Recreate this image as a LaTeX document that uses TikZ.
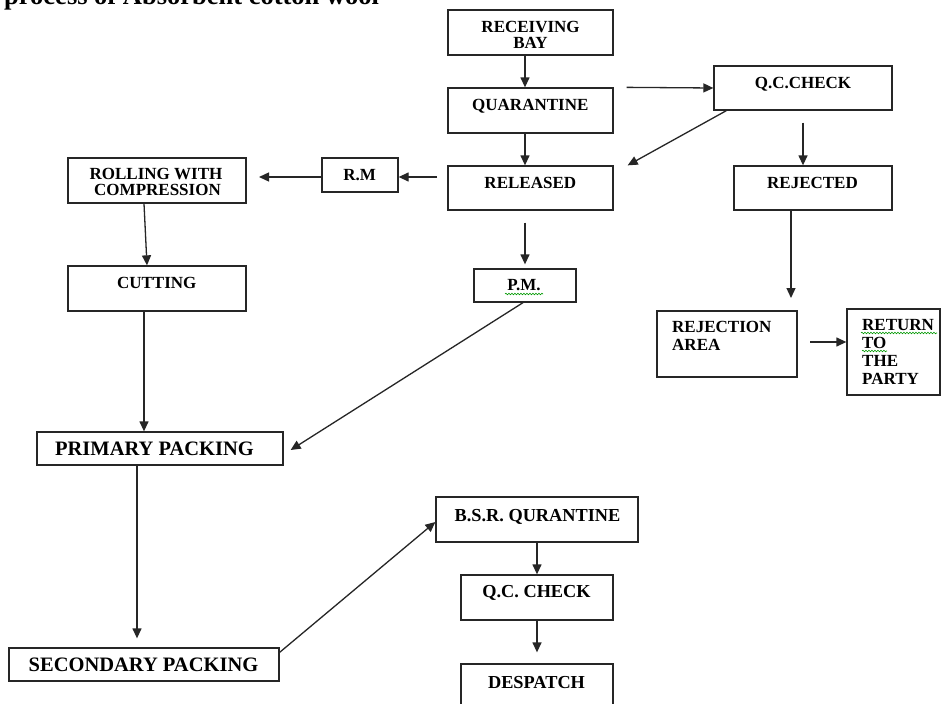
\documentclass[tikz,border=0pt]{standalone}
\usepackage{fontspec}
\setmainfont{Liberation Serif}
\usetikzlibrary{arrows.meta,decorations.pathmorphing}
\newcommand\mkbox[5]{\node[box,minimum width=#4pt,minimum height=#5pt] (#1) at (#2,#3) {};}
\begin{document}
\begin{tikzpicture}[x=1pt,y=-1pt,
  box/.style={draw=black!85,line width=1.3pt,inner sep=0pt,fill=none},
  lbl/.style={inner sep=0pt,anchor=base,font=\bfseries\fontsize{17}{17}\selectfont},
  lblb/.style={lbl,font=\bfseries\fontsize{18.3}{18.3}\selectfont},
  lblp/.style={lbl,font=\bfseries\fontsize{20.5}{20.5}\selectfont},
  lbll/.style={inner sep=0pt,anchor=base west,font=\bfseries\fontsize{17}{17}\selectfont},
  arr/.style={draw=black!85,line width=1.3pt,-{Triangle[length=10pt,width=9pt]}},
  spell/.style={draw=green!60!black,line width=0.6pt,decorate,decoration={snake,amplitude=0.8pt,segment length=3pt}}]
\useasboundingbox (0,0) rectangle (951,704);
\clip (0,0) rectangle (951,704);
\fill[white] (0,0) rectangle (951,704);
% title
\node[inner sep=0pt,anchor=base west,font=\bfseries\fontsize{26.5}{26.5}\selectfont] (title) at (4,5) {process of Absorbent cotton wool};
% boxes
\mkbox{rb}{530.5}{32.5}{165}{45}
\mkbox{qu}{530.5}{110.5}{165}{45}
\mkbox{re}{530.5}{188}{165}{44}
\mkbox{qc}{803}{88}{178}{44}
\mkbox{rj}{813}{188}{158}{44}
\mkbox{ra}{727}{344}{140}{66}
\mkbox{rt}{893.5}{352}{93}{86}
\mkbox{rm}{360}{175}{76}{34}
\mkbox{ro}{157}{180.5}{178}{45}
\mkbox{cu}{157}{288.5}{178}{45}
\mkbox{pm}{525}{285.5}{102}{33}
\mkbox{pp}{160}{448.5}{246}{33}
\mkbox{sp}{144}{664.5}{270}{33}
\mkbox{bsr}{537}{519.5}{202}{45}
\mkbox{qcb}{537}{597.5}{152}{45}
\mkbox{de}{537}{690}{152}{52}
% labels
\node[lbl] (rbA) at (530.6,32) {RECEIVING};
\node[lbl] (rbB) at (530.5,48) {BAY};
\node[lbl] (quL) at (530.3,110) {QUARANTINE};
\node[lbl] (reL) at (530.3,188) {RELEASED};
\node[lbl] (qcL) at (803,88) {Q.C.CHECK};
\node[lbl] (rjL) at (812.5,188) {REJECTED};
\node[lbll] (raA) at (672,332) {REJECTION};
\node[lbll] (raB) at (672,350) {AREA};
\node[lbll] (rtA) at (862,330) {RETURN};
\node[lbll] (rtB) at (862,348) {TO};
\node[lbll] (rtC) at (862,366) {THE};
\node[lbll] (rtD) at (862,384) {PARTY};
\node[lbl] (rmL) at (359.7,180) {R.M};
\node[lbl] (roA) at (156,179) {ROLLING WITH};
\node[lbl] (roB) at (157.5,195) {COMPRESSION};
\node[lbl] (cuL) at (156.7,288) {CUTTING};
\node[lbl] (pmL) at (524,290) {P.M.};
\node[lblp] (ppL) at (154.5,455) {PRIMARY PACKING};
\node[lblp] (spL) at (143.5,671) {SECONDARY PACKING};
\node[lblb] (bsrL) at (537.5,521) {B.S.R. QURANTINE};
\node[lblb] (qcbL) at (536.5,597) {Q.C. CHECK};
\node[lblb] (deL) at (536.5,688) {DESPATCH};
% spell-check underlines
\draw[spell] (861,333) -- (937,333);
\draw[spell] (862,351) -- (887,351);
\draw[spell] (505,294) -- (543,294);
% coordinates for free ends
\coordinate (rjend) at (791,298);
\coordinate (raout) at (810,342);
\coordinate (reout) at (437,177);
\coordinate (roin) at (259,177);
% connectors
\draw[arr] ([xshift=-5.5]rb.south) -- ([xshift=-5.5]qu.north);
\draw[arr] ([xshift=-5.5]qu.south) -- ([xshift=-5.5]re.north);
\draw[arr] ([xshift=13]qu.north east) -- (qc.west);
\draw[arr] ([xshift=13]qc.south west) -- ([xshift=14]re.north east);
\draw[arr] ([yshift=-12]qc.south) -- (qc.south |- rj.north);
\draw[arr] (rj.south -| rjend) -- (rjend);
\draw[arr] (raout) -- (rt.west |- raout);
\draw[arr] (reout) -- (rm.east |- reout);
\draw[arr] (rm.west |- reout) -- (roin);
\draw[arr] ([xshift=-13]ro.south) -- ([xshift=-10]cu.north);
\draw[arr] ([xshift=-13]cu.south) -- ([xshift=-16]pp.north);
\draw[arr] ([xshift=-5.5,yshift=-12]re.south) -- ([yshift=4]pm.north);
\draw[arr] ([xshift=-2]pm.south) -- ([xshift=7,yshift=-1.5]pp.east);
\draw[arr] ([xshift=-23]pp.south) -- ([xshift=-7,yshift=9]sp.north);
\draw[arr] ([yshift=-5]sp.north east) -- ([yshift=-2.5]bsr.west);
\draw[arr] (bsr.south) -- (qcb.north);
\draw[arr] (qcb.south) -- ([yshift=11]de.north);
\end{tikzpicture}
\end{document}
